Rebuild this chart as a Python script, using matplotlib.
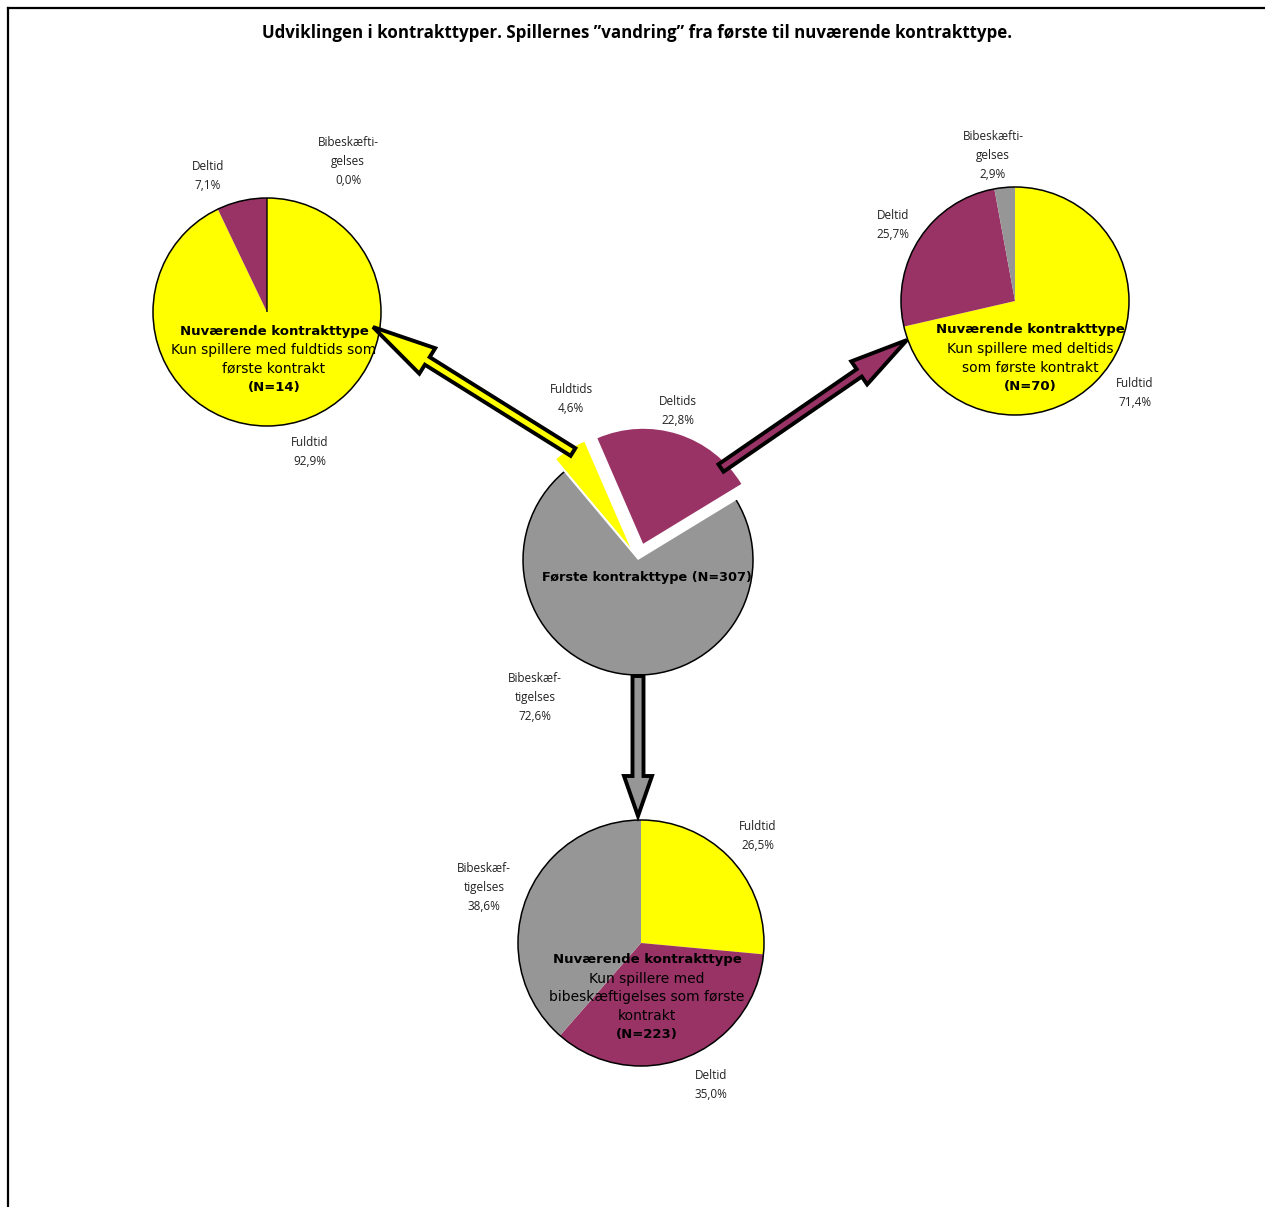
import matplotlib.pyplot as plt
from matplotlib.patches import Arc, Circle, FancyArrow

# data
first_labels = ["Fuldtids", "Deltids", "Bibeskæf-\ntigelses"]
first_share = [4.6, 22.8, 72.6]
first_n = 307

now_labels = ["Fuldtid", "Deltid", "Bibeskæfti-\ngelses"]
now_labels_side = ["Fuldtid", "Deltid", "Bibeskæf-\ntigelses"]
from_full = [92.9, 7.1, 0.0]
from_full_n = 14
from_part = [71.4, 25.7, 2.9]
from_part_n = 70
from_side = [26.5, 35.0, 38.6]
from_side_n = 223

title = "Udviklingen i kontrakttyper. Spillernes \u201dvandring\u201d fra første til nuværende kontrakttype."
colors = ["#FFFF00", "#993366", "#969696"]

W, H = 1265, 1207
fig = plt.figure(figsize=(W / 100, H / 100), dpi=100)
ax = fig.add_axes([0, 0, 1, 1])


def Y(y):
    return H - y


def pct(v):
    return f"{v:.1f}".replace(".", ",") + "%"


def draw_pie(values, cx, cy, r, start=90, explode=None, outline=True):
    wedges, _ = ax.pie(values, colors=colors, startangle=start, counterclock=False,
                       radius=r, center=(cx, Y(cy)), frame=True, explode=explode,
                       wedgeprops=dict(linewidth=0))
    for w, v in zip(wedges, values):
        if v == 0:
            w.set_edgecolor("black")
            w.set_linewidth(1)
    if outline:
        ax.add_patch(Circle((cx, Y(cy)), r, fill=False, ec="black", lw=1.1, zorder=3))
    return wedges


def labels(names, values, spots):
    for name, v, (x, y) in zip(names, values, spots):
        ax.text(x, Y(y), name + "\n" + pct(v), ha="center", va="center", fontsize=8.5,
                family="Open Sans", color="#222222", linespacing=1.6)


def inner_text(cx, y0, lines):
    for i, (s, bold) in enumerate(lines):
        ax.text(cx, Y(y0 + i * 18.7), s, ha="center", va="center",
                fontsize=9.5 if bold else 10,
                fontweight="bold" if bold else "normal", family="DejaVu Sans", zorder=6)


# top left pie
draw_pie(from_full, 267, 312, 114)
labels(now_labels, from_full, [(310, 452), (208, 176), (348, 162)])
inner_text(274, 331, [("Nuværende kontrakttype", True), ("Kun spillere med fuldtids som", False),
                      ("første kontrakt", False), (f"(N={from_full_n})", True)])

# top right pie
draw_pie(from_part, 1015, 301, 114)
labels(now_labels, from_part, [(1135, 393), (893, 225), (993, 155)])
inner_text(1030, 330, [("Nuværende kontrakttype", True), ("Kun spillere med deltids", False),
                       ("som første kontrakt", False), (f"(N={from_part_n})", True)])

# bottom pie
draw_pie(from_side, 641, 943, 123)
labels(now_labels_side, from_side, [(758, 836), (711, 1085), (484, 888)])
inner_text(647, 960, [("Nuværende kontrakttype", True), ("Kun spillere med", False),
                      ("bibeskæftigelses som første", False), ("kontrakt", False),
                      (f"(N={from_side_n})", True)])

# first contract pie, two slices pulled out
cw = draw_pie(first_share, 638, 560, 115, start=130, explode=[15, 17, 0], outline=False)
g = cw[2]
ax.add_patch(Arc(g.center, 2 * g.r, 2 * g.r, theta1=g.theta1, theta2=g.theta2,
                 color="black", lw=1.1, zorder=3))
labels(first_labels, first_share, [(571, 399), (678, 411), (535, 698)])
ax.text(647, Y(578), f"Første kontrakttype (N={first_n})", ha="center", va="center",
        fontsize=9.3, fontweight="bold", family="DejaVu Sans", zorder=6)

# arrows
arrows = [((573, 452), (373, 327), colors[0], 9, 30, 64),
          ((721, 468), (907, 340), colors[1], 9, 28, 58),
          ((638, 676), (638, 816), colors[2], 11, 28, 40)]
for (x0, y0), (x1, y1), c, wd, hw, hl in arrows:
    ax.add_patch(FancyArrow(x0, Y(y0), x1 - x0, Y(y1) - Y(y0), width=wd,
                            length_includes_head=True, head_width=hw, head_length=hl,
                            fc=c, ec="black", lw=2.8, joinstyle="miter", zorder=5))

ax.text(637, Y(33), title, ha="center", va="center", fontsize=12.2,
        fontweight="bold", family="Open Sans")

# frame lines
ax.plot([8, 8], [Y(8), 0], color="black", lw=1.6, clip_on=False)
ax.plot([8, W], [Y(8), Y(8)], color="black", lw=1.6, clip_on=False)

ax.set_xlim(0, W)
ax.set_ylim(0, H)
ax.axis("off")
fig.savefig("out.png", dpi=100)
